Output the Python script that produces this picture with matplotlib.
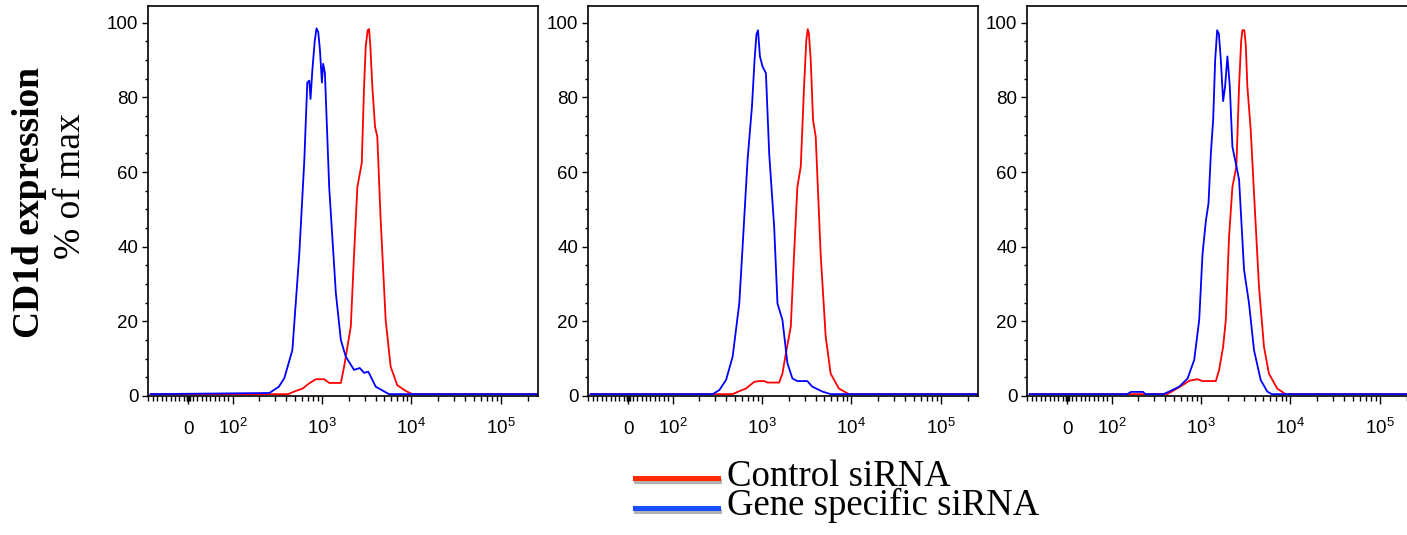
import matplotlib
matplotlib.use('Agg')
import matplotlib.pyplot as plt
import matplotlib.patheffects as pe
from matplotlib.lines import Line2D
from matplotlib.ticker import FixedLocator, MultipleLocator, NullFormatter

plt.rcParams['font.family'] = ['Liberation Sans', 'DejaVu Sans']
plt.rcParams['mathtext.fontset'] = 'custom'
plt.rcParams['mathtext.rm'] = 'Liberation Sans'
plt.rcParams['mathtext.it'] = 'Liberation Sans:italic'
plt.rcParams['mathtext.bf'] = 'Liberation Sans:bold'

# histogram traces: x = fluorescence intensity, y = % of max
# panel 1
gene1_x = [-85, 258, 330, 380, 467, 558, 635, 686, 722, 746, 780, 830, 870, 910, 950,
           1000, 1033, 1080, 1206, 1432, 1629, 1853, 2291, 2654, 2964, 3309, 4000,
           5169, 5626, 262144]
gene1_y = [0.5, 0.8, 2.5, 4.8, 12.3, 38, 63, 84, 84.5, 79.6, 87, 95, 98.5, 97.5, 92.8,
           84, 89, 86.6, 56, 27.6, 15, 10.5, 7, 7.5, 6.2, 6.5, 2.5,
           1, 0.5, 0.5]
ctrl1_x = [-85, 420, 491, 608, 722, 857, 1061, 1206, 1629, 1773, 2105, 2291, 2494,
           2792, 2964, 3094, 3250, 3370, 3480, 3665, 3929, 4168, 4546, 5169, 5877,
           6966, 8637, 10233, 262144]
ctrl1_y = [0.5, 0.5, 1.2, 2, 3.4, 4.5, 4.5, 3.5, 3.5, 7.9, 18.6, 38, 56,
           62.4, 83, 93.7, 98, 98.3, 94, 83, 72.2, 69.5, 47.2, 20.4, 7.9,
           2.9, 1.4, 0.5, 0.5]

# panel 2
gene2_x = [-85, 281, 334, 397, 470, 558, 608, 691, 774, 827, 870, 905, 950, 1016,
           1109, 1206, 1371, 1493, 1697, 1929, 2193, 2494, 3223, 3665, 4740, 5877,
           262144]
gene2_y = [0.5, 0.5, 1.6, 4.3, 10.5, 24.8, 40, 63.3, 77.6, 90, 97, 98, 91, 88.3,
           86.5, 65, 45.4, 24.8, 20.4, 8.8, 4.7, 4, 4, 2.5, 1.2, 0.5,
           0.5]
ctrl2_x = [-85, 470, 558, 663, 821, 933, 1061, 1155, 1560, 1697, 1853, 2105, 2291,
           2494, 2722, 2964, 3141, 3260, 3360, 3519, 3733, 4000, 4546, 5169, 5877,
           7272, 9400, 262144]
ctrl2_y = [0.5, 0.5, 1.3, 2, 3.8, 4, 4, 3.6, 3.6, 6, 11.4, 18.6, 38,
           56, 61.5, 83, 95.4, 98.3, 97, 90, 74, 69.5, 38, 16, 6,
           2, 0.5, 0.5]

# panel 3
gene3_x = [-85, 150, 165, 225, 240, 380, 443, 573, 709, 842, 957, 1042, 1137, 1216,
           1292, 1371, 1444, 1520, 1590, 1671, 1773, 1866, 1980, 2105, 2251, 2412,
           2673, 3040, 3455, 3929, 4666, 5524, 6200, 262144]
gene3_y = [0.5, 0.5, 1.1, 1.1, 0.5, 0.5, 1.2, 2.5, 4.7, 9.7, 20.4, 38, 47, 51.6,
           65, 74, 90, 98, 97, 90, 79, 83, 91, 83, 66.8, 63.3,
           58, 33.8, 24.8, 12.3, 4.3, 1.2, 0.5, 0.5]
ctrl3_x = [-85, 420, 504, 624, 741, 916, 1042, 1469, 1600, 1773, 1900, 2066, 2251,
           2494, 2673, 2820, 2910, 3062, 3180, 3309, 3609, 3929, 4467, 5079, 5772,
           7145, 8867, 262144]
ctrl3_y = [0.5, 0.5, 1.6, 2.9, 4.1, 4.5, 4, 4, 7, 13.2, 20.4, 42.7, 56,
           61.5, 83, 95, 98, 98, 94, 83, 71.3, 54.3, 29.3, 13.2, 6,
           2, 0.5, 0.5]

gene_x = [gene1_x, gene2_x, gene3_x]
gene_y = [gene1_y, gene2_y, gene3_y]
ctrl_x = [ctrl1_x, ctrl2_x, ctrl3_x]
ctrl_y = [ctrl1_y, ctrl2_y, ctrl3_y]

xticks = [0, 100, 1000, 10000, 100000]
xtick_labels = ['0', r'$\mathregular{10^{2}}$', r'$\mathregular{10^{3}}$',
                r'$\mathregular{10^{4}}$', r'$\mathregular{10^{5}}$']
yticks = [0, 20, 40, 60, 80, 100]
legend_labels = ['Control siRNA', 'Gene specific siRNA']

W, H = 1407, 535
fig = plt.figure(figsize=(W / 100, H / 100), dpi=100)

lefts = [148, 588, 1027]
minor_x = ([-v for v in range(10, 100, 10)] + [-4, -2, 2, 4] + list(range(10, 100, 10))
           + [m * 10 ** k for k in range(2, 6) for m in range(2, 10) if m * 10 ** k < 262144])

for i, lx in enumerate(lefts):
    ax = fig.add_axes([lx / W, 139 / H, 390 / W, 390 / H])
    ax.plot(ctrl_x[i], ctrl_y[i], color='#ff0000', lw=1.3)
    ax.plot(gene_x[i], gene_y[i], color='#0000ff', lw=1.3)
    ax.set_xscale('symlog', linthresh=100, linscale=0.446)
    ax.set_xlim(-91, 262144)
    ax.set_ylim(0, 104.5)
    ax.xaxis.set_major_locator(FixedLocator(xticks))
    ax.xaxis.set_minor_locator(FixedLocator(minor_x))
    ax.set_xticklabels(xtick_labels)
    ax.xaxis.set_minor_formatter(NullFormatter())
    ax.set_yticks(yticks)
    ax.yaxis.set_minor_locator(MultipleLocator(5))
    ax.tick_params(axis='x', which='major', length=6, width=1, pad=21, labelsize=13.5)
    ax.tick_params(axis='x', which='minor', length=3.5, width=1)
    ax.tick_params(axis='y', which='major', length=4, width=1, pad=3, labelsize=13.5)
    ax.tick_params(axis='y', which='minor', length=2.5, width=1)
    for lbl in ax.get_xticklabels():
        lbl.set_verticalalignment('baseline')
    for s in ax.spines.values():
        s.set_linewidth(1.2)

fig.text(30 / W, 1 - 203 / H, 'CD1d expression', rotation=90, ha='center', va='center',
         fontsize=27, fontweight='bold', family='Liberation Serif')
fig.text(71 / W, 1 - 186 / H, '% of max', rotation=90, ha='center', va='center',
         fontsize=27, family='Liberation Serif')

# legend drawn by hand: the rows sit tighter than a matplotlib legend allows,
# so the two labels are one text block with reduced line spacing
shadow = [pe.SimpleLineShadow(offset=(1, -2.5), shadow_color='k', alpha=0.3), pe.Normal()]
for col, yl in zip(['#ff2a00', '#1a4dff'], [478, 508]):
    fig.add_artist(Line2D([635 / W, 718 / W], [1 - yl / H] * 2, color=col, lw=3.6,
                          path_effects=shadow))
fig.text(727 / W, 1 - 459 / H, '\n'.join(legend_labels), ha='left', va='top',
         fontsize=26.5, family='Liberation Serif', linespacing=0.8)

fig.savefig('out.png', dpi=100)
